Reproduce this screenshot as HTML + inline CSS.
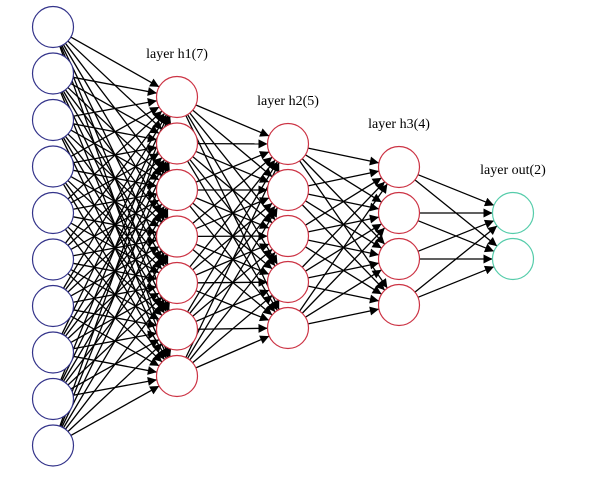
<!DOCTYPE html><html><head><style>body{margin:0;background:#fff}svg{display:block}</style></head><body>
<svg id="s" width="600" height="477" xmlns="http://www.w3.org/2000/svg">
<defs><marker id="a" viewBox="0 0 10 10" refX="10" refY="5" markerWidth="12" markerHeight="9" markerUnits="userSpaceOnUse" orient="auto"><path d="M0,0L10,5L0,10z" fill="#000"/></marker></defs>
<g font-family="Liberation Serif, serif" font-size="14" text-anchor="middle" fill="#000">
<text x="177" y="58">layer h1(7)</text>
<text x="288" y="105">layer h2(5)</text>
<text x="399" y="128">layer h3(4)</text>
<text x="513" y="174">layer out(2)</text>
</g>
<g id="e" stroke="#000" stroke-width="1.3" fill="none"></g>
<g id="n" fill="#fff" stroke-width="1.2"></g>
</svg>
<script>
var L=[{x:53,y0:27,d:46.5,n:10,c:"#33338a"},{x:177,y0:97,d:46.5,n:7,c:"#cc3344"},{x:288,y0:144,d:46,n:5,c:"#cc3344"},{x:399,y0:167,d:46,n:4,c:"#cc3344"},{x:513,y0:213,d:46,n:2,c:"#55ccaa"}];
var r=20.5,ns="http://www.w3.org/2000/svg",E=document.getElementById("e"),N=document.getElementById("n");
for(var l=0;l<L.length-1;l++){var A=L[l],B=L[l+1];for(var i=0;i<A.n;i++)for(var j=0;j<B.n;j++){
var x1=A.x,y1=A.y0+i*A.d,x2=B.x,y2=B.y0+j*B.d,dx=x2-x1,dy=y2-y1,len=Math.hypot(dx,dy),ux=dx/len,uy=dy/len;
var p=document.createElementNS(ns,"line");p.setAttribute("x1",x1+ux*r);p.setAttribute("y1",y1+uy*r);p.setAttribute("x2",x2-ux*r);p.setAttribute("y2",y2-uy*r);p.setAttribute("marker-end","url(#a)");E.appendChild(p);}}
L.forEach(function(A){for(var i=0;i<A.n;i++){var c=document.createElementNS(ns,"circle");c.setAttribute("cx",A.x);c.setAttribute("cy",A.y0+i*A.d);c.setAttribute("r",r);c.setAttribute("stroke",A.c);N.appendChild(c);}});
</script>
</body></html>
